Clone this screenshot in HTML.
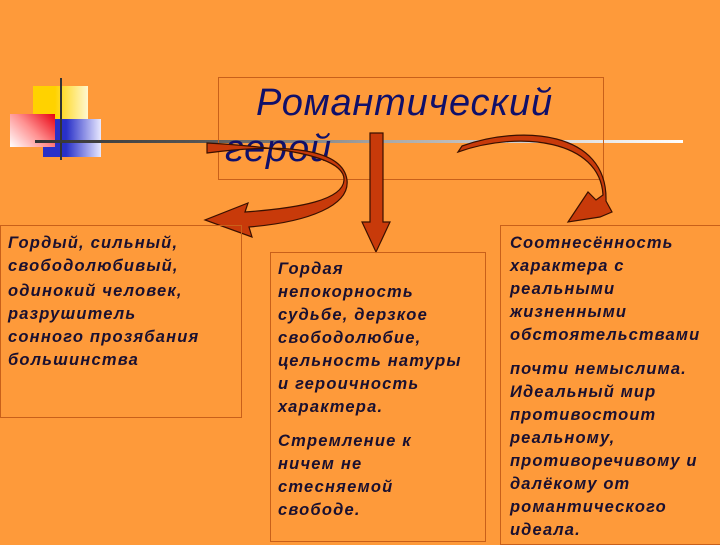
<!DOCTYPE html>
<html><head><meta charset="utf-8"><style>
body{margin:0;width:720px;height:540px;background:#fe9a3a;position:relative;overflow:hidden;font-family:"Liberation Sans",sans-serif}
.box{position:absolute;border:1px solid #c8601a;box-sizing:border-box;font-weight:bold;font-style:italic;font-size:16.5px;letter-spacing:1.2px;line-height:23px;color:#1a1030;white-space:nowrap}
.box p{margin:0 0 11px 0}
#title{position:absolute;left:218px;top:77px;width:386px;height:103px;border:1px solid #c8601a;box-sizing:border-box}
.t{position:absolute;font-style:italic;color:#10106a;font-size:38px;letter-spacing:0.8px}
</style></head><body>
<div style="position:absolute;left:33px;top:86px;width:55px;height:34px;background:linear-gradient(90deg,#ffd200 40%,#fff8d0)"></div>
<div style="position:absolute;left:43px;top:119px;width:58px;height:38px;background:linear-gradient(90deg,#2830c8 40%,#e8e8ff)"></div>
<div style="position:absolute;left:10px;top:114px;width:45px;height:33px;background:linear-gradient(45deg,#fff 0%,#ff9090 50%,#e80010 100%)"></div>
<div style="position:absolute;left:60px;top:78px;width:2px;height:82px;background:#333"></div>
<div style="position:absolute;left:35px;top:140px;width:648px;height:3px;background:linear-gradient(90deg,#333,#555 25%,#aaa 55%,#fff)"></div>
<div id="title"></div>
<div class="t" style="left:256px;top:82px">Романтический</div>
<div class="t" style="left:225px;top:128px">герой</div>
<svg width="720" height="540" style="position:absolute;left:0;top:0">
<g fill="#c83a0a" stroke="#3a1000" stroke-width="1.2">
<path d="M207,143 C300,148 345,160 344,180 C343,200 300,208 245,212 L248,203 L205,220 L252,237 L249,227 C310,222 350,205 347,180 C343,150 290,142 207,153 Z"/>
<path d="M370,133 L383,133 L383,222 L390,222 L376,252 L362,222 L370,222 Z"/>
<path d="M458,152 C520,130 600,140 603,195 L596,200 L588,192 L568,222 L600,217 L612,212 L606,201 C608,130 520,125 462,146 Z"/>
</g>
</svg>
<div class="box" style="left:0;top:225px;width:242px;height:193px;padding:6px 0 0 7px"><p style="margin-bottom:2px">Гордый, сильный,<br>свободолюбивый,</p><p>одинокий человек,<br>разрушитель<br>сонного прозябания<br>большинства</p></div>
<div class="box" style="left:270px;top:252px;width:216px;height:290px;padding:5px 0 0 7px"><p>Гордая<br>непокорность<br>судьбе, дерзкое<br>свободолюбие,<br>цельность натуры<br>и героичность<br>характера.</p><p>Стремление к<br>ничем не<br>стесняемой<br>свободе.</p></div>
<div class="box" style="left:500px;top:225px;width:222px;height:320px;padding:6px 0 0 9px;letter-spacing:1.1px"><p>Соотнесённость<br>характера с<br>реальными<br>жизненными<br>обстоятельствами</p><p>почти немыслима.<br>Идеальный мир<br>противостоит<br>реальному,<br>противоречивому и<br>далёкому от<br>романтического<br>идеала.</p></div>
</body></html>
